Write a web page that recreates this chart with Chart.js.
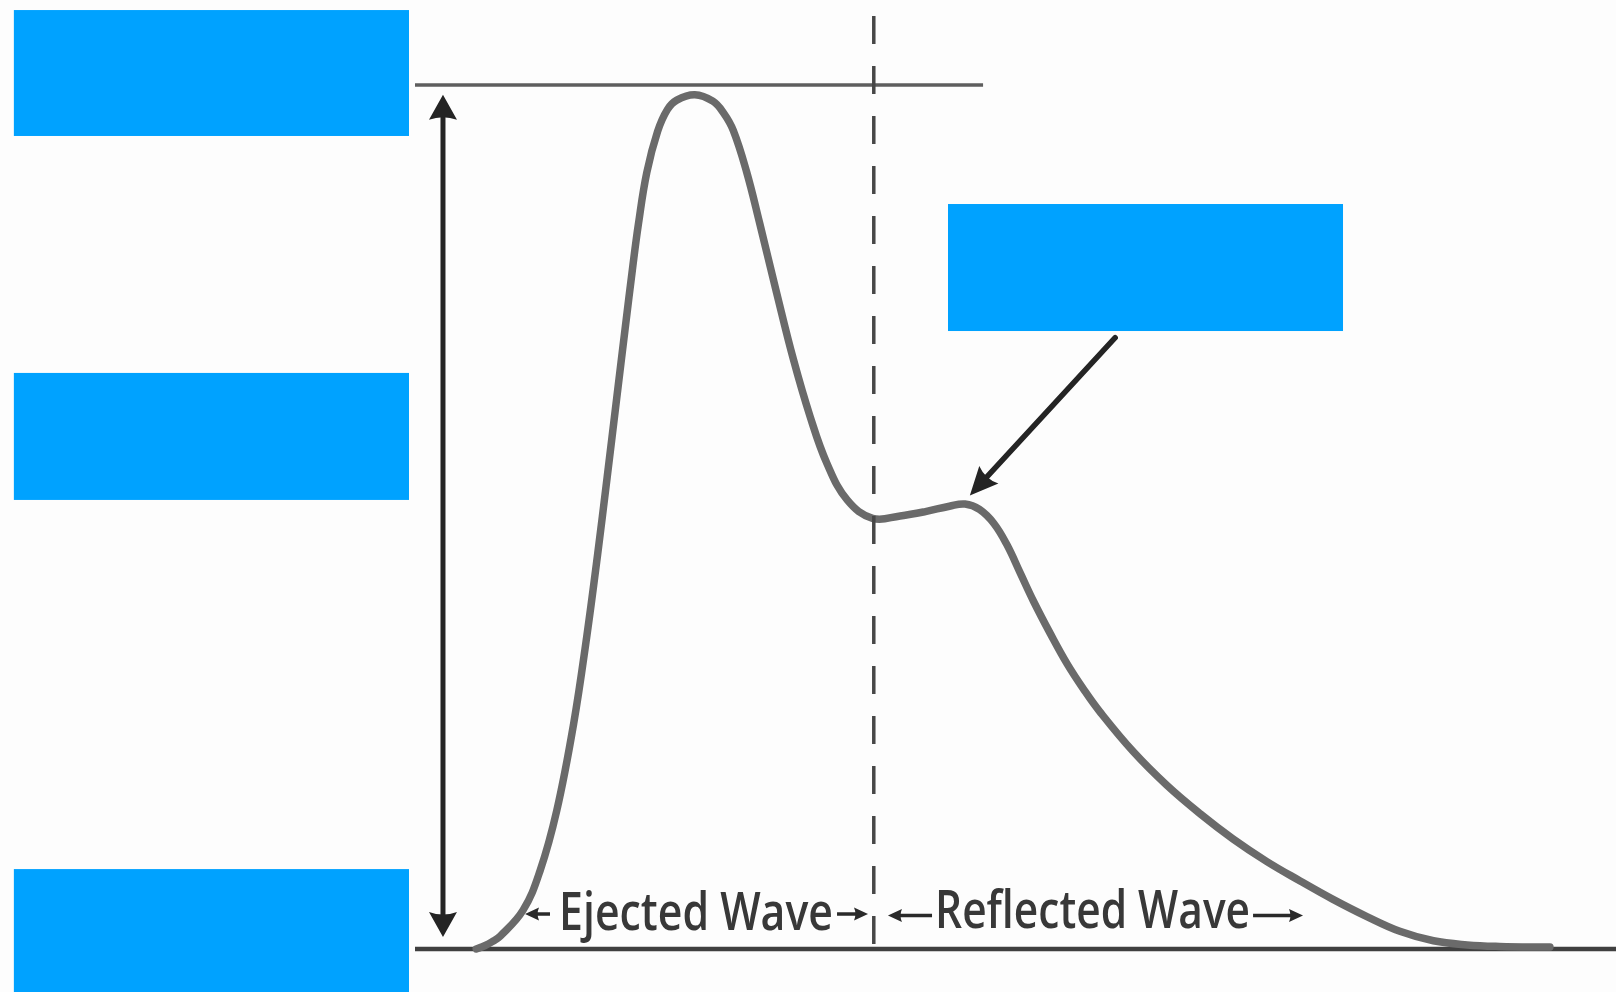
<!DOCTYPE html>
<html>
<head>
<meta charset="utf-8">
<script src="https://cdn.jsdelivr.net/npm/chart.js@4/dist/chart.umd.min.js"></script>
<style>
  html, body { margin: 0; padding: 0; background: #fdfdfd; }
  #wrap { width: 1616px; height: 992px; }
</style>
</head>
<body>
<div id="wrap"><canvas id="c" width="1616" height="992"></canvas></div>
<script>
// ---- data ----
const timeMs = [51, 58, 64, 71, 90, 104, 118, 132, 143, 152, 160, 168, 175, 181, 186, 193, 202, 210, 218,
  233, 248, 257, 265, 276, 287, 301, 315, 329, 343, 360, 381, 404, 425, 445, 458, 470, 482, 493, 504,
  515, 529, 543, 557, 570, 598, 626, 654, 681, 709, 737, 764, 793, 820, 848, 876, 903, 945];
const pressureMmHg = [80.0, 80.15, 80.33, 80.6, 81.8, 83.6, 86.4, 90.4, 94.46, 98.24, 101.84, 105.52, 108.74,
  111.45, 113.55, 115.95, 117.85, 118.85, 119.3, 119.55, 119.25, 118.7, 117.9, 116.0, 113.6, 110.4, 107.31,
  104.65, 102.48, 100.78, 99.94, 100.05, 100.25, 100.5, 100.6, 100.35, 99.7, 98.7, 97.4, 96.1, 94.6,
  93.2, 92.0, 91.0, 89.14, 87.58, 86.25, 85.10, 84.06, 83.15, 82.31, 81.49, 80.82, 80.38, 80.19, 80.12, 80.09];
const systolicLevel = 120;
const diastolicLevel = 80;
const phaseBoundaryMs = 382;
const waveLabels = ['Ejected Wave', 'Reflected Wave'];
const xRange = [0, 1000];
const yRange = [80, 120];

// ---- annotation layout (data units) ----
const topLineSpan = [0, 473];
const baseLineSpan = [0, 1000];
const dashedTop = 123.2;
const pulseArrow = { x: 23.3, yTop: 119.55, yBottom: 80.55 };
const notchPointer = { from: [583, 108.3], to: [462, 101.0] };
const labelBoxes = [
  { text: waveLabels[0], x0: 120, x1: 348, y: 80.88 },
  { text: waveLabels[1], x0: 433, x1: 695.3, y: 80.95 }
];
const smallArrows = [
  { tip: 91.6, tail: 112.4, y: 81.62 },
  { tip: 377.2, tail: 351.4, y: 81.62 },
  { tip: 393.8, tail: 430.5, y: 81.55 },
  { tip: 739.4, tail: 697.8, y: 81.55 }
];
const coverBoxes = [
  { x0: -334, x1: -5, y0: 123.47, y1: 117.64 },
  { x0: -334, x1: -5, y0: 106.67, y1: 100.79 },
  { x0: -334, x1: -5, y0: 83.70, y1: 77.9 },
  { x0: 443.8, x1: 772.7, y0: 114.49, y1: 108.61 }
];

function head(ctx, tx, ty, ang, len, wid) {
  ctx.save();
  ctx.translate(tx, ty);
  ctx.rotate(ang);
  ctx.beginPath();
  ctx.moveTo(0, 0);
  ctx.lineTo(-len, wid / 2);
  ctx.quadraticCurveTo(-len * 0.8, 0, -len, -wid / 2);
  ctx.closePath();
  ctx.fill();
  ctx.restore();
}

const overlay = {
  id: 'overlay',
  afterDatasetsDraw(chart) {
    const ctx = chart.ctx, xs = chart.scales.x, ys = chart.scales.y;
    const X = v => xs.getPixelForValue(v), Y = v => ys.getPixelForValue(v);
    ctx.save();
    // vertical double arrow (pulse pressure)
    ctx.strokeStyle = '#242424'; ctx.fillStyle = '#242424'; ctx.lineWidth = 5;
    const ax = X(pulseArrow.x), at = Y(pulseArrow.yTop), ab = Y(pulseArrow.yBottom);
    ctx.beginPath(); ctx.moveTo(ax, at + 15); ctx.lineTo(ax, ab - 15); ctx.stroke();
    head(ctx, ax, at, -Math.PI / 2, 25, 28);
    head(ctx, ax, ab, Math.PI / 2, 25, 28);
    // notch pointer
    const fx = X(notchPointer.from[0]), fy = Y(notchPointer.from[1]);
    const tx = X(notchPointer.to[0]), ty = Y(notchPointer.to[1]);
    const ang = Math.atan2(ty - fy, tx - fx);
    ctx.lineWidth = 5.5; ctx.lineCap = 'round';
    ctx.beginPath(); ctx.moveTo(fx, fy);
    ctx.lineTo(tx - Math.cos(ang) * 18, ty - Math.sin(ang) * 18); ctx.stroke();
    head(ctx, tx, ty, ang, 28, 26);
    // labels
    ctx.fillStyle = '#383838';
    ctx.font = '600 52px "Open Sans", "Noto Sans", sans-serif';
    ctx.textBaseline = 'alphabetic';
    labelBoxes.forEach(l => {
      const w = ctx.measureText(l.text).width;
      const target = X(l.x1) - X(l.x0);
      ctx.save();
      ctx.translate(X(l.x0), Y(l.y));
      ctx.scale(target / w, 1);
      ctx.fillText(l.text, 0, 0);
      ctx.restore();
    });
    // small arrows beside labels
    ctx.strokeStyle = '#2a2a2a'; ctx.fillStyle = '#2a2a2a'; ctx.lineWidth = 3.5; ctx.lineCap = 'butt';
    smallArrows.forEach(a => {
      const tpx = X(a.tip), tlx = X(a.tail), py = Y(a.y);
      const dir = tpx > tlx ? 1 : -1;
      ctx.beginPath(); ctx.moveTo(tlx, py); ctx.lineTo(tpx - dir * 8, py); ctx.stroke();
      head(ctx, tpx, py, dir > 0 ? 0 : Math.PI, 14, 13);
    });
    ctx.restore();
  },
  afterDraw(chart) {
    const ctx = chart.ctx, xs = chart.scales.x, ys = chart.scales.y;
    const X = v => xs.getPixelForValue(v), Y = v => ys.getPixelForValue(v);
    ctx.save();
    ctx.fillStyle = '#00a2ff';
    coverBoxes.forEach(b => {
      const x0 = X(b.x0), x1 = X(b.x1), y0 = Y(b.y0), y1 = Y(b.y1);
      ctx.fillRect(x0, y0, x1 - x0, y1 - y0);
    });
    ctx.restore();
  }
};

new Chart(document.getElementById('c'), {
  type: 'line',
  data: {
    datasets: [
      {
        label: 'phase boundary',
        data: [{ x: phaseBoundaryMs, y: dashedTop }, { x: phaseBoundaryMs, y: diastolicLevel }],
        borderColor: '#474747', borderWidth: 3.5, borderDash: [28, 22], tension: 0,
        pointRadius: 0, clip: false, order: 0
      },
      {
        label: 'pressure',
        data: timeMs.map((t, i) => ({ x: t, y: pressureMmHg[i] })),
        borderColor: '#6a6a6a', borderWidth: 7.5, tension: 0.4,
        pointRadius: 0, clip: false, order: 1, borderCapStyle: 'round', borderJoinStyle: 'round'
      },
      {
        label: 'diastolic',
        data: [{ x: baseLineSpan[0], y: diastolicLevel }, { x: baseLineSpan[1], y: diastolicLevel }],
        borderColor: '#404040', borderWidth: 4.5, pointRadius: 0, clip: false, order: 2, tension: 0
      },
      {
        label: 'systolic',
        data: [{ x: topLineSpan[0], y: systolicLevel }, { x: topLineSpan[1], y: systolicLevel }],
        borderColor: '#5e5e5e', borderWidth: 3.5, pointRadius: 0, clip: false, order: 3, tension: 0
      }
    ]
  },
  options: {
    responsive: false,
    animation: false,
    devicePixelRatio: 1,
    layout: { padding: { left: 415, right: 0, top: 85, bottom: 43 } },
    scales: {
      x: { type: 'linear', min: xRange[0], max: xRange[1], display: false },
      y: { type: 'linear', min: yRange[0], max: yRange[1], display: false }
    },
    plugins: { legend: { display: false }, tooltip: { enabled: false } }
  },
  plugins: [overlay]
});
</script>
</body>
</html>
